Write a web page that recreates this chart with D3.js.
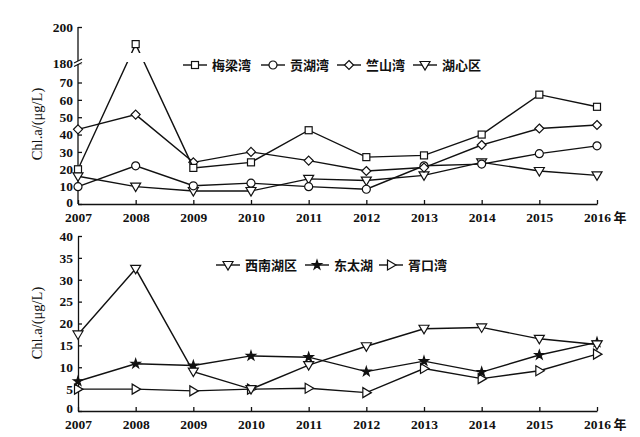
<!DOCTYPE html>
<html><head><meta charset="utf-8">
<script src="https://cdn.jsdelivr.net/npm/d3@7"></script>
<style>
body{margin:0;background:#fff;}
svg{display:block;}
.num{font-family:"Liberation Serif","DejaVu Serif",serif;font-weight:bold;font-size:13.5px;fill:#111;}
</style></head>
<body>
<svg id="c" width="640" height="437"></svg>
<script>
const years = [2007,2008,2009,2010,2011,2012,2013,2014,2015,2016];
// top panel
const meiliang = [20,190.5,20.8,24,42.5,27,28,40,63,56];
const gonghu   = [10,22,10.5,12,10,8.5,22,23,29,33.5];
const zhushan  = [43,51.5,24,30,25,19,21,34,43.5,45.5];
const huxin    = [16,10,7.5,7.5,14.5,13.5,16.5,24,19,16.5];
const topNames = ["梅梁湾","贡湖湾","竺山湾","湖心区"];
const topTicksLow = [0,10,20,30,40,50,60,70];
const topTicksHigh = [180,200];
// bottom panel
const xinan   = [17.5,32.5,9,5,10.5,14.8,18.8,19.1,16.5,15.2];
const dongtai = [6.8,10.8,10.4,12.6,12.3,9,11.4,8.9,12.8,15.7];
const xukou   = [5,5,4.6,5,5.2,4.2,9.7,7.4,9.2,13];
const botNames = ["西南湖区","东太湖","胥口湾"];
const botTicks = [0,5,10,15,20,25,30,35,40];
const yTitle = "Chl.a/(μg/L)";
const yearUnit = "年";

const svg = d3.select("#c");
const x = d3.scaleLinear().domain([2007,2016]).range([78,597]);
const yLow = d3.scaleLinear().domain([0,70]).range([204,82.5]);
const yHigh = d3.scaleLinear().domain([180,200]).range([63,27]);
const yTop = v => v <= 70 ? yLow(v) : yHigh(v);
const yBot = d3.scaleLinear().domain([0,40]).range([411,236]);

const serif = '"Liberation Serif","DejaVu Serif",serif';
const cjk = '"Noto Sans CJK SC","Noto Sans CJK JP",sans-serif';

function styleAxis(g){
  g.selectAll("path,line").attr("stroke","#111").attr("stroke-width",1.3);
  g.selectAll("text").attr("class","num").attr("fill","#111");
}

function xAxis(y0){
  const g = svg.append("g").attr("transform",`translate(0,${y0})`)
    .call(d3.axisBottom(x).tickValues(years).tickFormat(d3.format("d")).tickSize(-4).tickSizeOuter(0).tickPadding(8));
  styleAxis(g);
  g.selectAll("text").attr("dy","0.72em");
  svg.append("text").attr("x",620).attr("y",y0+18).attr("text-anchor","middle")
    .style("font-family",cjk).style("font-size","13px").style("font-weight","bold").attr("fill","#111").text(yearUnit);
}

// TOP y axis
{
  const g1 = svg.append("g").attr("transform","translate(78,0)")
    .call(d3.axisLeft(yLow).tickValues(topTicksLow).tickSize(-4).tickSizeOuter(0).tickPadding(5));
  g1.select(".domain").remove();
  styleAxis(g1);
  g1.selectAll(".tick").filter(d=>d===0).select("text").attr("dy","0.17em");
  const g2 = svg.append("g").attr("transform","translate(78,0)")
    .call(d3.axisLeft(yHigh).tickValues(topTicksHigh).tickSize(-4).tickSizeOuter(0).tickPadding(5));
  g2.select(".domain").remove();
  styleAxis(g2);
  svg.append("line").attr("x1",78).attr("x2",78).attr("y1",yHigh(200)).attr("y2",yLow(0)).attr("stroke","#111").attr("stroke-width",1.3);
  // break marks
  const yb = yHigh(180);
  svg.append("rect").attr("x",74).attr("y",yb-2).attr("width",8).attr("height",3).attr("fill","#fff");
  [-2,1.5].forEach(o=>{
    svg.append("line").attr("x1",74).attr("x2",82).attr("y1",yb+o+2).attr("y2",yb+o-2).attr("stroke","#111").attr("stroke-width",1.2);
  });
}
xAxis(204);

// BOTTOM y axis
{
  const g = svg.append("g").attr("transform","translate(78,0)")
    .call(d3.axisLeft(yBot).tickValues(botTicks).tickSize(-4).tickSizeOuter(0).tickPadding(5));
  styleAxis(g);
  g.selectAll(".tick").filter(d=>d===0).select("text").attr("dy","0.1em");
}
xAxis(411);

// y titles
[[124],[323]].forEach(([cy])=>{
  svg.append("text").attr("transform",`translate(42,${cy}) rotate(-90)`).attr("text-anchor","middle")
    .style("font-family",serif).style("font-size","14.5px").attr("fill","#111").text(yTitle);
});

// markers
function marker(g, type, cx, cy){
  const s = g.append("g").attr("transform",`translate(${cx},${cy})`);
  const st = {fill:"#fff",stroke:"#111","stroke-width":1.2};
  let el;
  if(type==="square") el = s.append("rect").attr("x",-3.5).attr("y",-3.5).attr("width",7).attr("height",7);
  else if(type==="circle") el = s.append("circle").attr("r",4);
  else if(type==="diamond") el = s.append("path").attr("d","M0,-4.5L4.5,0L0,4.5L-4.5,0Z");
  else if(type==="down") el = s.append("path").attr("d","M-5,-3.5L5,-3.5L0,5Z");
  else if(type==="right") el = s.append("path").attr("d","M-3.5,-5L5,0L-3.5,5Z");
  else if(type==="star"){
    el = s.append("path").attr("d",d3.symbol(d3.symbolStar,26)());
    st.fill="#111";
  }
  Object.entries(st).forEach(([k,v])=>el.attr(k,v));
}

// mask for break gap
const defs = svg.append("defs");
const m = defs.append("mask").attr("id","gap");
m.append("rect").attr("x",0).attr("y",0).attr("width",640).attr("height",437).attr("fill","#fff");
m.append("rect").attr("x",90).attr("y",53).attr("width",200).attr("height",9).attr("fill","#000");

function drawSeries(vals, yS, type, masked){
  const g = svg.append("g");
  const line = d3.line().x((d,i)=>x(years[i])).y(d=>yS(d));
  const p = g.append("path").attr("d",line(vals)).attr("fill","none").attr("stroke","#111").attr("stroke-width",1.4);
  if(masked) p.attr("mask","url(#gap)");
  vals.forEach((v,i)=>marker(g,type,x(years[i]),yS(v)));
}
drawSeries(huxin, yTop, "down");
drawSeries(gonghu, yTop, "circle");
drawSeries(zhushan, yTop, "diamond");
drawSeries(meiliang, yTop, "square", true);

drawSeries(xukou, yBot, "right");
drawSeries(dongtai, yBot, "star");
drawSeries(xinan, yBot, "down");

// legends
function legend(items, ly){
  items.forEach(it=>{
    const g = svg.append("g");
    g.append("line").attr("x1",it.x).attr("x2",it.x+24).attr("y1",ly).attr("y2",ly).attr("stroke","#111").attr("stroke-width",1.4);
    marker(g,it.type,it.x+12,ly);
    g.append("text").attr("x",it.x+29).attr("y",ly).attr("dy","0.35em")
      .style("font-family",cjk).style("font-size","13px").style("font-weight","bold").attr("fill","#111").text(it.name);
  });
}
legend([
  {x:183,type:"square",name:topNames[0]},
  {x:261,type:"circle",name:topNames[1]},
  {x:337,type:"diamond",name:topNames[2]},
  {x:413,type:"down",name:topNames[3]}
],65);
legend([
  {x:216,type:"down",name:botNames[0]},
  {x:305,type:"star",name:botNames[1]},
  {x:379,type:"right",name:botNames[2]}
],265);
</script>
</body></html>
